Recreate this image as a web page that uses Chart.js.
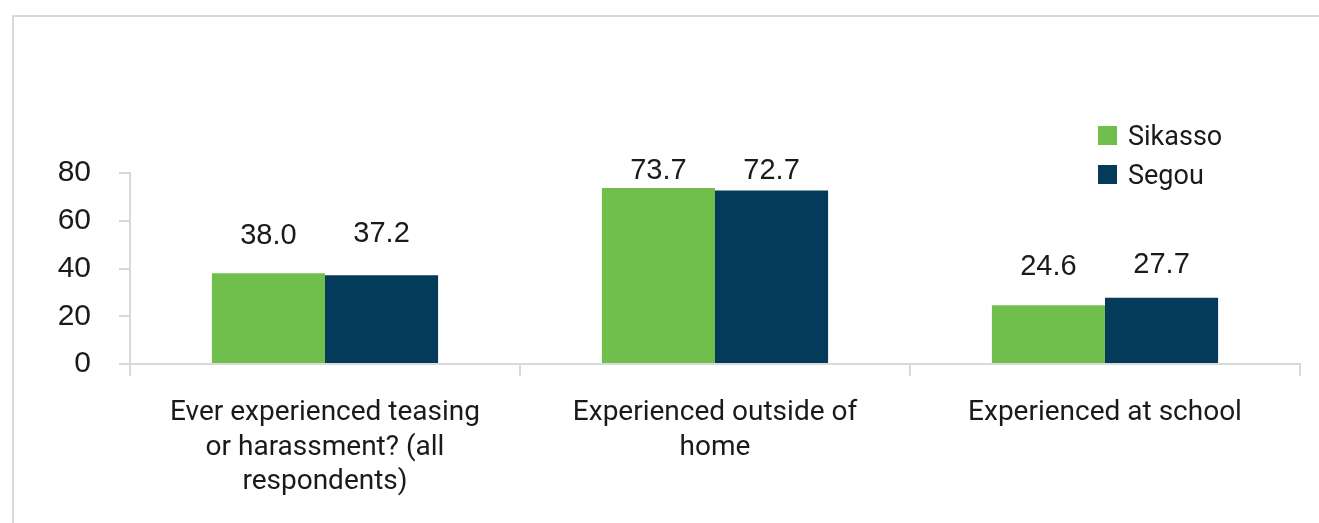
<!DOCTYPE html>
<html>
<head>
<meta charset="utf-8">
<script src="https://cdn.jsdelivr.net/npm/chart.js@4.4.0/dist/chart.umd.min.js"></script>
<style>
  html, body { margin: 0; padding: 0; background: #fff; overflow: hidden; }
  #wrap { position: relative; width: 1319px; height: 523px; }
  #frame { position: absolute; left: 12px; top: 15px; width: 1400px; height: 600px;
           border: 2px solid #d9d9d9; box-sizing: border-box; }
  canvas { position: absolute; left: 0; top: 0; }
</style>
</head>
<body>
<div id="wrap">
  <div id="frame"></div>
  <canvas id="chart" width="1319" height="523"></canvas>
</div>
<script>
const categories = [
  ['Ever experienced teasing', 'or harassment? (all', 'respondents)'],
  ['Experienced outside of', 'home'],
  ['Experienced at school']
];
const sikasso = [38.0, 73.7, 24.6];
const segou = [37.2, 72.7, 27.7];
const yTicks = [0, 20, 40, 60, 80];

const GREEN = '#70bf4c';
const NAVY = '#043b5a';
const AXIS = '#d9d9d9';
const TEXT = '#1a1a1a';

// gap in px between bar top and its label (labels were hand placed in the original)
const labelGap = [[29, 33], [9, 11], [30, 25]];

// value labels above each bar
const barLabels = {
  id: 'barLabels',
  afterDatasetsDraw(chart) {
    const ctx = chart.ctx;
    ctx.save();
    ctx.font = '29px "Liberation Sans", Arial, sans-serif';
    ctx.fillStyle = TEXT;
    ctx.textAlign = 'center';
    ctx.textBaseline = 'alphabetic';
    chart.data.datasets.forEach((ds, i) => {
      chart.getDatasetMeta(i).data.forEach((bar, j) => {
        ctx.fillText(ds.data[j].toFixed(1), bar.x, bar.y - labelGap[j][i]);
      });
    });
    ctx.restore();
  }
};

// stacked legend in the top right corner
const sideLegend = {
  id: 'sideLegend',
  afterDraw(chart) {
    const ctx = chart.ctx;
    ctx.save();
    ctx.font = '27px Roboto, sans-serif';
    ctx.textBaseline = 'middle';
    chart.data.datasets.forEach((ds, i) => {
      const y = 135 + i * 39;
      ctx.fillStyle = ds.backgroundColor;
      ctx.fillRect(1098, y - 9, 19, 19);
      ctx.fillStyle = TEXT;
      ctx.fillText(ds.label, 1128, y + 3);
    });
    ctx.restore();
  }
};

new Chart(document.getElementById('chart'), {
  type: 'bar',
  data: {
    labels: categories,
    datasets: [
      { label: 'Sikasso', data: sikasso, backgroundColor: GREEN },
      { label: 'Segou', data: segou, backgroundColor: NAVY }
    ]
  },
  options: {
    responsive: false,
    animation: false,
    layout: { padding: { top: 173, right: 19, left: 0, bottom: 0 } },
    datasets: { bar: { categoryPercentage: 0.58, barPercentage: 1.0 } },
    plugins: {
      legend: { display: false },
      tooltip: { enabled: false }
    },
    scales: {
      x: {
        grid: { drawOnChartArea: false, drawTicks: true, tickLength: 12, color: AXIS, lineWidth: 2 },
        border: { display: true, color: AXIS, width: 2 },
        ticks: {
          color: TEXT,
          autoSkip: false,
          maxRotation: 0,
          padding: 20,
          font: { family: 'Roboto', size: 28, lineHeight: 1.23 }
        },
        afterFit(scale) { scale.height = 159; }
      },
      y: {
        min: 0,
        max: 80,
        afterBuildTicks(scale) { scale.ticks = yTicks.map(v => ({ value: v })); },
        grid: { drawOnChartArea: false, drawTicks: true, tickLength: 11, color: AXIS, lineWidth: 2 },
        border: { display: true, color: AXIS, width: 2 },
        ticks: {
          color: TEXT,
          padding: 28,
          font: { family: '"Liberation Sans", Arial, sans-serif', size: 30 }
        },
        afterFit(scale) { scale.width = 130; }
      }
    }
  },
  plugins: [barLabels, sideLegend]
});
</script>
</body>
</html>
